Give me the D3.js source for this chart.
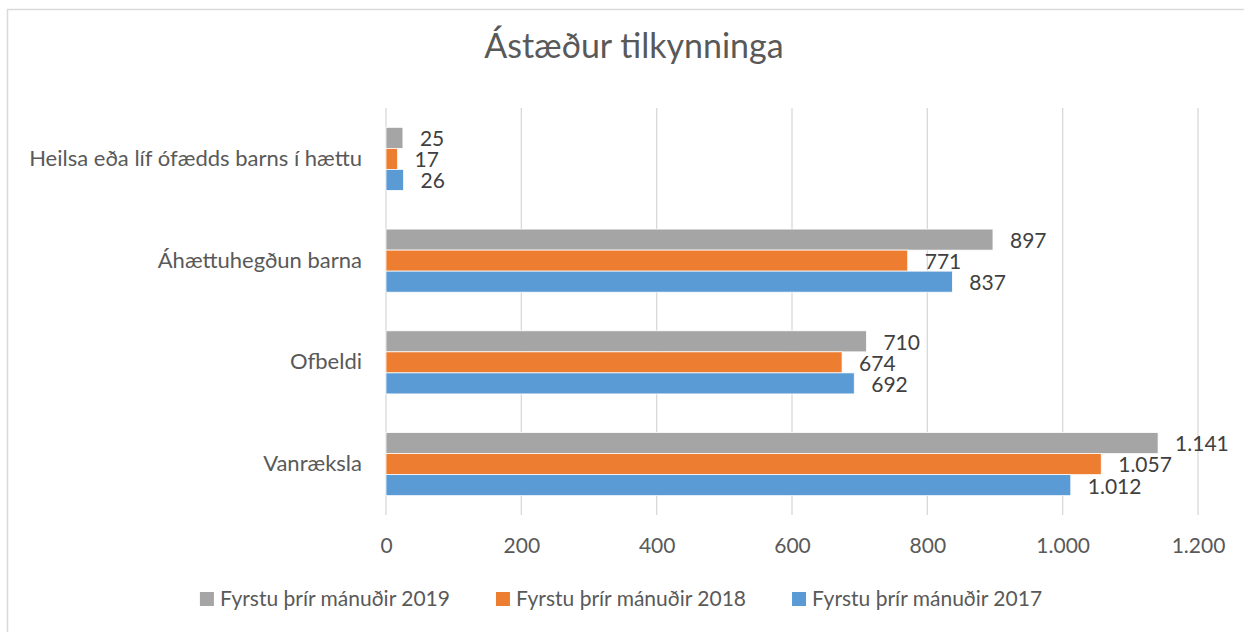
<!DOCTYPE html>
<html>
<head>
<meta charset="utf-8">
<script src="https://cdn.jsdelivr.net/npm/d3@7"></script>
<style>
  html, body { margin: 0; padding: 0; background: #fff; }
  svg { display: block; font-family: Lato, "Noto Sans", sans-serif; }
</style>
</head>
<body>
<div id="chart"></div>
<script>
// data (top to bottom)
const categories = ["Heilsa eða líf ófædds barns í hættu", "Áhættuhegðun barna", "Ofbeldi", "Vanræksla"];
const seriesNames = ["Fyrstu þrír mánuðir 2019", "Fyrstu þrír mánuðir 2018", "Fyrstu þrír mánuðir 2017"];
const values2019 = [25, 897, 710, 1141];
const values2018 = [17, 771, 674, 1057];
const values2017 = [26, 837, 692, 1012];
const xTicks = [0, 200, 400, 600, 800, 1000, 1200];
const colors = ["#a5a5a5", "#ed7d31", "#5b9bd5"];

const W = 1244, H = 632;
const margin = { top: 108, right: 46, bottom: 117, left: 386 };
const seriesValues = [values2019, values2018, values2017];

const rows = [];
categories.forEach((c, i) => {
  seriesNames.forEach((s, j) => rows.push({ cat: c, series: s, value: seriesValues[j][i], color: colors[j] }));
});

const fmt = d3.formatLocale({ decimal: ",", thousands: ".", grouping: [3] }).format(",");

const svg = d3.select("#chart").append("svg")
  .attr("width", W)
  .attr("height", H);

// chart frame
svg.append("path")
  .attr("d", `M7.5,${H} V9.5 H${W}`)
  .attr("fill", "none")
  .attr("stroke", "#d9d9d9")
  .attr("stroke-width", 1.5);

const x = d3.scaleLinear()
  .domain([0, 1200])
  .range([margin.left, W - margin.right]);

const y = d3.scaleBand()
  .domain(categories)
  .range([margin.top, H - margin.bottom])
  .paddingInner(0.38)
  .paddingOuter(0.19);

const ySub = d3.scaleBand()
  .domain(seriesNames)
  .range([0, y.bandwidth()]);

// title
svg.append("text")
  .attr("x", 634)
  .attr("y", 58)
  .attr("text-anchor", "middle")
  .attr("fill", "#595959")
  .style("font-size", "34px")
  .text("Ástæður tilkynninga");

// gridlines
svg.append("g")
  .selectAll("line")
  .data(xTicks)
  .enter().append("line")
  .attr("x1", d => x(d)).attr("x2", d => x(d))
  .attr("y1", margin.top).attr("y2", H - margin.bottom)
  .attr("stroke", "#d9d9d9")
  .attr("stroke-width", 1.3);

// x axis labels
const xAxis = svg.append("g")
  .attr("transform", `translate(0,${H - margin.bottom + 31})`)
  .call(d3.axisBottom(x).tickValues(xTicks).tickFormat(fmt).tickSize(0).tickPadding(0));
xAxis.select(".domain").remove();
xAxis.selectAll("text")
  .attr("fill", "#595959")
  .attr("dy", "0.35em")
  .style("font-family", "Lato, 'Noto Sans', sans-serif")
  .style("font-size", "21px");

// category labels
const yAxis = svg.append("g")
  .attr("transform", `translate(${margin.left - 24},0)`)
  .call(d3.axisLeft(y).tickSize(0).tickPadding(0));
yAxis.select(".domain").remove();
yAxis.selectAll("text")
  .attr("fill", "#595959")
  .style("font-family", "Lato, 'Noto Sans', sans-serif")
  .style("font-size", "22px");

// bars
svg.append("g")
  .selectAll("rect")
  .data(rows)
  .enter().append("rect")
  .attr("x", x(0))
  .attr("y", d => y(d.cat) + ySub(d.series))
  .attr("width", d => x(d.value) - x(0))
  .attr("height", ySub.bandwidth())
  .attr("fill", d => d.color)
  .attr("stroke", "#fff")
  .attr("stroke-width", 0.75);

// value labels
svg.append("g")
  .selectAll("text")
  .data(rows)
  .enter().append("text")
  .attr("x", d => x(d.value) + 17)
  .attr("y", d => y(d.cat) + ySub(d.series) + ySub.bandwidth() / 2 + 1)
  .attr("dy", "0.35em")
  .attr("fill", "#404040")
  .style("font-size", "21px")
  .text(d => fmt(d.value));

// legend
const legend = svg.append("g");
const items = legend.selectAll("g")
  .data(seriesNames)
  .enter().append("g");
items.append("rect")
  .attr("width", 14).attr("height", 14)
  .attr("y", 592)
  .attr("fill", (d, i) => colors[i]);
items.append("text")
  .attr("x", 20)
  .attr("y", 599)
  .attr("dy", "0.35em")
  .attr("fill", "#595959")
  .style("font-size", "21px")
  .text(d => d);

const gap = 46;
const widths = [];
items.each(function () { widths.push(this.getBBox().width); });
const total = d3.sum(widths) + gap * (widths.length - 1);
let cx = 621 - total / 2;
items.attr("transform", (d, i) => {
  const t = `translate(${cx},0)`;
  cx += widths[i] + gap;
  return t;
});
</script>
</body>
</html>
